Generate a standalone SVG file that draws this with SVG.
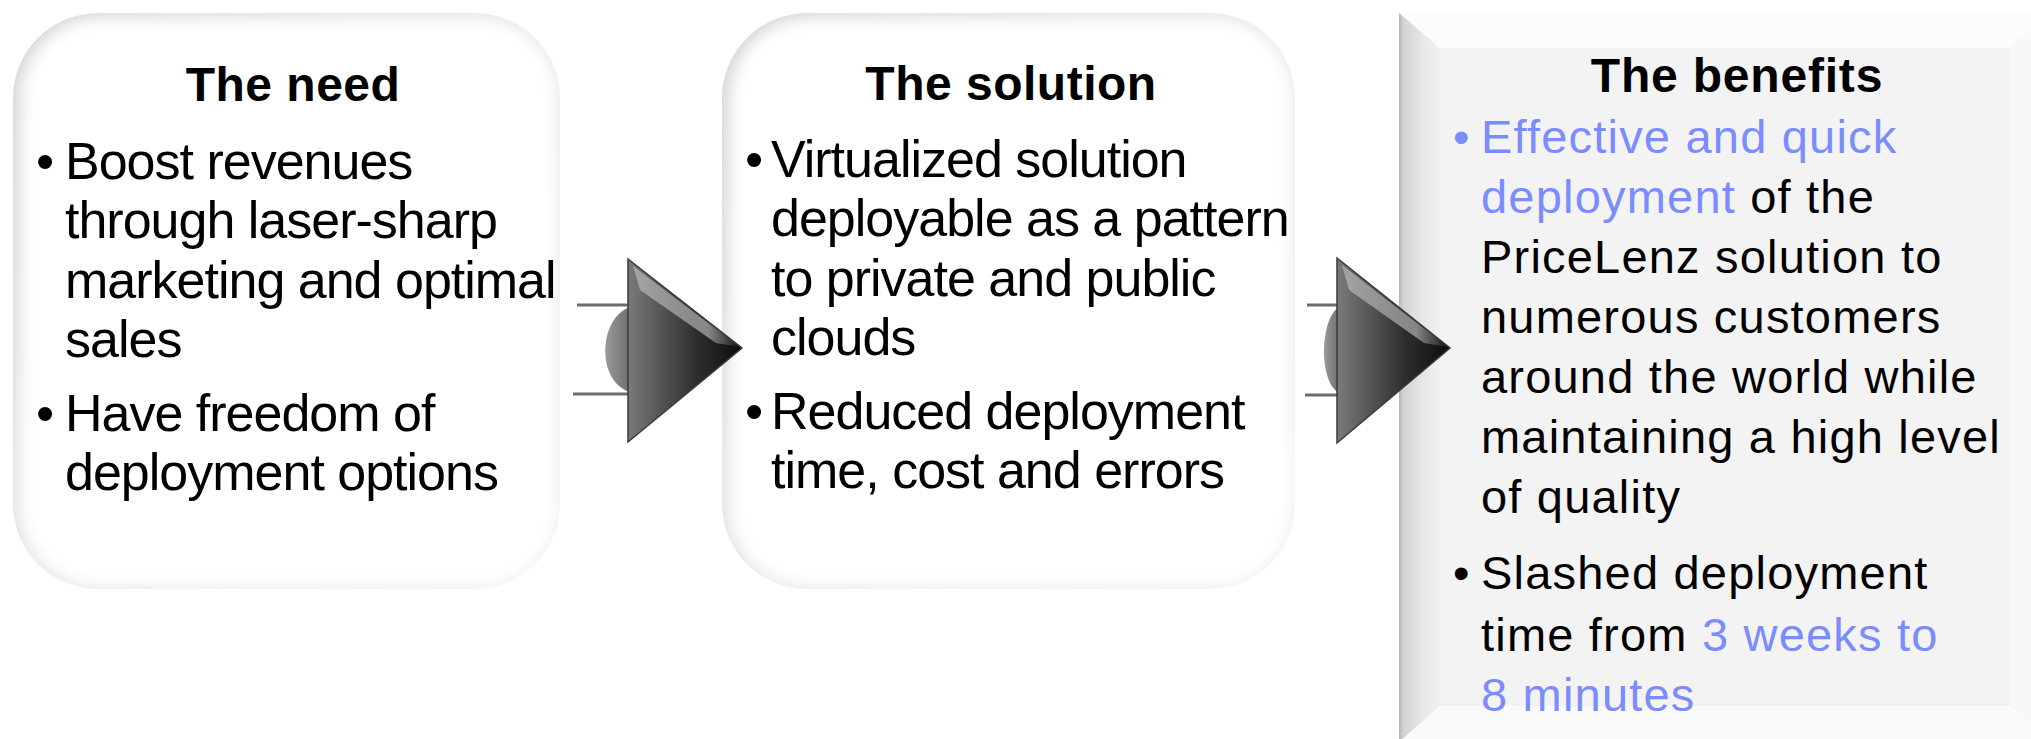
<svg xmlns="http://www.w3.org/2000/svg" width="2031" height="739" viewBox="0 0 2031 739">
  <style>
    .title { font-family: "Liberation Sans", Arial, sans-serif; font-weight: bold; font-size: 48px; fill: #000; text-anchor: middle; letter-spacing: 0.5px; }
    .body { font-family: "Liberation Sans", Arial, sans-serif; font-size: 52px; fill: #000; letter-spacing: -1px; }
    .body3 { font-family: "Liberation Sans", Arial, sans-serif; font-size: 47px; fill: #000; letter-spacing: 1.2px; }
    .blue { fill: #7b8cff; }
    .shaft { stroke: #6c6c6c; stroke-width: 3; }
    .head { stroke: #3a3a3a; stroke-width: 1.5; }
  </style>
  <defs>
    <filter id="soft" x="-10%" y="-10%" width="120%" height="120%">
      <feGaussianBlur stdDeviation="8"/>
    </filter>
    <linearGradient id="edgeGrad" x1="0" y1="0" x2="1" y2="1">
      <stop offset="0" stop-color="#d2d2d2"/>
      <stop offset="0.5" stop-color="#e6e6e6"/>
      <stop offset="1" stop-color="#f0f0f0"/>
    </linearGradient>
    <linearGradient id="headGrad" x1="0" y1="0" x2="1" y2="0">
      <stop offset="0" stop-color="#7a7a7a"/>
      <stop offset="0.6" stop-color="#2e2e2e"/>
      <stop offset="1" stop-color="#0c0c0c"/>
    </linearGradient>
    <linearGradient id="bulgeGrad" x1="0" y1="0" x2="1" y2="0">
      <stop offset="0" stop-color="#9a9a9a"/>
      <stop offset="1" stop-color="#6e6e6e"/>
    </linearGradient>
    <linearGradient id="hiGrad" x1="0" y1="0" x2="1" y2="0">
      <stop offset="0" stop-color="#ffffff" stop-opacity="0.35"/>
      <stop offset="0.7" stop-color="#ffffff" stop-opacity="0.45"/>
      <stop offset="1" stop-color="#ffffff" stop-opacity="0"/>
    </linearGradient>
    <linearGradient id="leftFace" x1="0" y1="0" x2="1" y2="0">
      <stop offset="0" stop-color="#b4b4b4"/>
      <stop offset="0.1" stop-color="#d2d2d2"/>
      <stop offset="0.6" stop-color="#e8e8e8"/>
      <stop offset="1" stop-color="#f1f1f1"/>
    </linearGradient>
  </defs>

  <!-- Box 1: The need -->
  <g id="node-need">
    <rect x="13" y="13" width="547" height="576" rx="85" ry="85" fill="url(#edgeGrad)"/>
    <rect x="20" y="17" width="538" height="570" rx="80" ry="80" fill="#ffffff" filter="url(#soft)"/>
    <text class="title" x="293" y="101">The need</text>
    <text class="body" x="36" y="179">•</text>
    <text class="body" x="65" y="179">Boost revenues</text>
    <text class="body" x="65" y="238">through laser-sharp</text>
    <text class="body" x="65" y="298">marketing and optimal</text>
    <text class="body" x="65" y="357">sales</text>
    <text class="body" x="36" y="431">•</text>
    <text class="body" x="65" y="431">Have freedom of</text>
    <text class="body" x="65" y="490">deployment options</text>
  </g>

  <!-- Box 2: The solution -->
  <g id="node-solution">
    <rect x="722" y="13" width="573" height="576" rx="85" ry="85" fill="url(#edgeGrad)"/>
    <rect x="729" y="17" width="564" height="570" rx="80" ry="80" fill="#ffffff" filter="url(#soft)"/>
    <text class="title" x="1011" y="100">The solution</text>
    <text class="body" x="745" y="177">•</text>
    <text class="body" x="771" y="177">Virtualized solution</text>
    <text class="body" x="771" y="236">deployable as a pattern</text>
    <text class="body" x="771" y="296">to private and public</text>
    <text class="body" x="771" y="355">clouds</text>
    <text class="body" x="745" y="429">•</text>
    <text class="body" x="771" y="429">Reduced deployment</text>
    <text class="body" x="771" y="488">time, cost and errors</text>
  </g>

  <!-- Box 3: The benefits (bevel) -->
  <g id="node-benefits">
    <polygon points="1399,13 2048,13 2010,48 1440,48" fill="#fcfcfc"/>
    <polygon points="2048,13 2010,48 2010,706 2048,742" fill="#f8f8f8"/>
    <polygon points="1399,742 1440,706 2010,706 2048,742" fill="#fafafa"/>
    <polygon points="1399,13 1440,48 1440,706 1399,742" fill="url(#leftFace)"/>
    <rect x="1440" y="48" width="570" height="658" fill="#f3f3f3"/>
    <text class="title" x="1737" y="92" style="letter-spacing:0.8px">The benefits</text>
    <text class="body3 blue" x="1453" y="153">•</text>
    <text class="body3 blue" x="1481" y="153">Effective and quick</text>
    <text class="body3" x="1481" y="213"><tspan class="blue">deployment</tspan> of the</text>
    <text class="body3" x="1481" y="273">PriceLenz solution to</text>
    <text class="body3" x="1481" y="333">numerous customers</text>
    <text class="body3" x="1481" y="393">around the world while</text>
    <text class="body3" x="1481" y="453">maintaining a high level</text>
    <text class="body3" x="1481" y="513">of quality</text>
    <text class="body3" x="1453" y="589">•</text>
    <text class="body3" x="1481" y="589">Slashed deployment</text>
    <text class="body3" x="1481" y="651">time from <tspan class="blue">3 weeks to</tspan></text>
    <text class="body3 blue" x="1481" y="711">8 minutes</text>
  </g>

  <!-- Connectors -->
  <g id="connectors">
    <g id="arrow-1">
      <line class="shaft" x1="577" y1="305" x2="630" y2="305"/>
      <line class="shaft" x1="573" y1="394" x2="630" y2="394"/>
      <path d="M630,307 C598,318 596,382 630,392 Z" fill="url(#bulgeGrad)"/>
      <polygon class="head" points="628,259 742,348 628,442" fill="url(#headGrad)"/>
      <path d="M633,266 L740,347 L716,343 L640,290 Z" fill="url(#hiGrad)"/>
    </g>
    <g id="arrow-2">
      <line class="shaft" x1="1307" y1="305" x2="1339" y2="305"/>
      <line class="shaft" x1="1305" y1="395" x2="1339" y2="395"/>
      <path d="M1339,307 C1320,318 1318,382 1339,393 Z" fill="url(#bulgeGrad)"/>
      <polygon class="head" points="1337,258 1450,348 1337,443" fill="url(#headGrad)"/>
      <path d="M1342,265 L1448,347 L1424,343 L1349,290 Z" fill="url(#hiGrad)"/>
    </g>
  </g>
</svg>
